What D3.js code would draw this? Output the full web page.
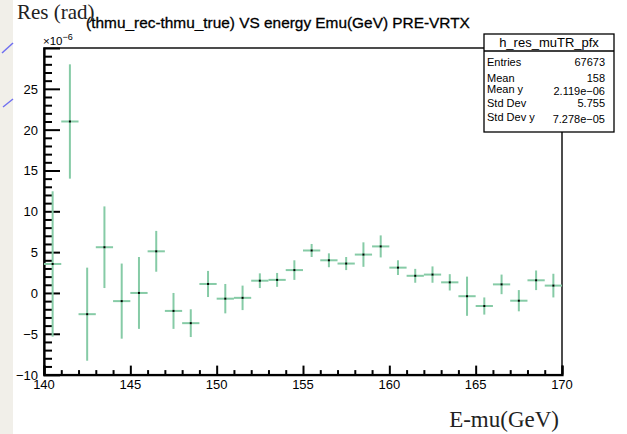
<!DOCTYPE html>
<html>
<head>
<meta charset="utf-8">
<script src="https://cdn.jsdelivr.net/npm/d3@7"></script>
<style>
  html, body { margin: 0; padding: 0; background: #fff; }
  svg { display: block; }
</style>
</head>
<body>
<svg id="chart" width="627" height="434"></svg>
<script>
// Profile of theta_mu residual vs muon energy (values in units of 1e-6 rad)
const energy = [140.5, 141.5, 142.5, 143.5, 144.5, 145.5, 146.5, 147.5, 148.5, 149.5,
                150.5, 151.5, 152.5, 153.5, 154.5, 155.5, 156.5, 157.5, 158.5, 159.5,
                160.5, 161.5, 162.5, 163.5, 164.5, 165.5, 166.5, 167.5, 168.5, 169.5];
const binWidth = 1;
const meanRes = [3.55, 21.0, -2.6, 5.6, -1.0, 0.0, 5.1, -2.2, -3.7, 1.1,
                 -0.7, -0.6, 1.5, 1.6, 2.8, 5.2, 4.0, 3.6, 4.7, 5.7,
                 3.1, 2.1, 2.25, 1.3, -0.4, -1.6, 1.05, -0.95, 1.55, 0.9];
const errRes = [8.9, 7.0, 5.7, 5.0, 4.6, 4.4, 2.5, 2.2, 1.7, 1.6,
                1.8, 1.5, 0.9, 0.85, 1.2, 0.8, 0.85, 0.8, 1.5, 1.35,
                0.9, 0.85, 1.0, 1.0, 2.4, 1.05, 1.2, 1.3, 1.2, 1.45];
const xTicks = [140, 145, 150, 155, 160, 165, 170];
const yTicks = [-10, -5, 0, 5, 10, 15, 20, 25];
const statLabels = ["Entries", "Mean", "Mean y", "Std Dev", "Std Dev y"];
const statValues = ["67673", "158", "2.119e\u221206", "5.755", "7.278e\u221205"];

const svg = d3.select("#chart");
const sans = "'Liberation Sans', Arial, Helvetica, sans-serif";
const serif = "'Liberation Serif', 'Times New Roman', serif";

const x = d3.scaleLinear().domain([140, 170]).range([44, 562]);
const y = d3.scaleLinear().domain([-10, 30]).range([374.6, 48]);

// left margin strip with decorative strokes
svg.append("rect").attr("x", 0).attr("y", 0).attr("width", 13).attr("height", 434)
  .attr("fill", "#f1efe9");
svg.append("line").attr("x1", 2).attr("y1", 53).attr("x2", 13).attr("y2", 43)
  .attr("stroke", "#6f6ff0").attr("stroke-width", 1.5);
svg.append("line").attr("x1", 3).attr("y1", 107).attr("x2", 13).attr("y2", 99)
  .attr("stroke", "#6f6ff0").attr("stroke-width", 1.5);

// frame
svg.append("rect").attr("x", x(140)).attr("y", y(30))
  .attr("width", x(170) - x(140)).attr("height", y(-10) - y(30))
  .attr("fill", "none").attr("stroke", "#000").attr("stroke-width", 1.4);

// y axis: major ticks with labels, minor ticks each unit
const yAxis = d3.axisRight(y).tickValues(yTicks).tickSize(16).tickFormat("");
const gy = svg.append("g").attr("transform", `translate(${x(140)},0)`).call(yAxis);
gy.select(".domain").attr("stroke-width", 2.2);
gy.selectAll(".tick line").attr("stroke-width", 2);
const yMinor = d3.axisRight(y).tickValues(d3.range(-10, 30, 1).filter(v => v % 5 !== 0))
  .tickSize(8).tickFormat("");
const gym = svg.append("g").attr("transform", `translate(${x(140)},0)`).call(yMinor);
gym.select(".domain").remove();
gym.selectAll(".tick line").attr("stroke-width", 2);
svg.append("g").selectAll("text").data(yTicks).join("text")
  .attr("x", 38).attr("y", d => y(d) + 5)
  .attr("text-anchor", "end").attr("font-family", sans).attr("font-size", 13)
  .text(d => d < 0 ? "\u2212" + Math.abs(d) : d);

// x axis
const xAxis = d3.axisTop(x).tickValues(xTicks).tickSize(9).tickFormat("");
const gx = svg.append("g").attr("transform", `translate(0,${y(-10)})`).call(xAxis);
gx.select(".domain").attr("stroke-width", 2.2);
gx.selectAll(".tick line").attr("stroke-width", 2);
const xMinor = d3.axisTop(x).tickValues(d3.range(141, 170, 1).filter(v => v % 5 !== 0))
  .tickSize(4.5).tickFormat("");
const gxm = svg.append("g").attr("transform", `translate(0,${y(-10)})`).call(xMinor);
gxm.select(".domain").remove();
gxm.selectAll(".tick line").attr("stroke-width", 2);
svg.append("g").selectAll("text").data(xTicks).join("text")
  .attr("x", d => x(d)).attr("y", 389)
  .attr("text-anchor", "middle").attr("font-family", sans).attr("font-size", 13)
  .text(d => d);

// exponent marker
const expo = svg.append("text").attr("x", 43).attr("y", 45)
  .attr("font-family", sans).attr("font-size", 11.5);
expo.append("tspan").text("\u00d710");
expo.append("tspan").attr("dy", -5).attr("font-size", 9).text("\u22126");

// profile points with error bars
const marks = svg.append("g");
const barColor = "#86cba6";
marks.selectAll("line.h").data(energy).join("line").attr("class", "h")
  .attr("x1", d => x(d - binWidth / 2)).attr("x2", d => x(d + binWidth / 2))
  .attr("y1", (d, i) => y(meanRes[i])).attr("y2", (d, i) => y(meanRes[i]))
  .attr("stroke", barColor).attr("stroke-width", 2);
marks.selectAll("line.v").data(energy).join("line").attr("class", "v")
  .attr("x1", d => x(d)).attr("x2", d => x(d))
  .attr("y1", (d, i) => y(meanRes[i] + errRes[i])).attr("y2", (d, i) => y(meanRes[i] - errRes[i]))
  .attr("stroke", barColor).attr("stroke-width", 2);
marks.selectAll("rect").data(energy).join("rect")
  .attr("x", d => x(d) - 1).attr("y", (d, i) => y(meanRes[i]) - 1)
  .attr("width", 2).attr("height", 2).attr("fill", "#000");

// title
svg.append("text").attr("x", 278).attr("y", 28).attr("text-anchor", "middle")
  .attr("font-family", sans).attr("font-size", 15.4)
  .attr("stroke", "#000").attr("stroke-width", 0.3)
  .text("(thmu_rec-thmu_true) VS energy Emu(GeV) PRE-VRTX");

// statistics box
const box = svg.append("g");
box.append("rect").attr("x", 484).attr("y", 34).attr("width", 130).attr("height", 98)
  .attr("fill", "#fff").attr("stroke", "#000").attr("stroke-width", 1.3);
box.append("line").attr("x1", 484).attr("x2", 614).attr("y1", 51).attr("y2", 51)
  .attr("stroke", "#000").attr("stroke-width", 1.3);
box.append("text").attr("x", 549).attr("y", 47).attr("text-anchor", "middle")
  .attr("font-family", sans).attr("font-size", 13).text("h_res_muTR_pfx");
const rowY = [66, 82, 93, 107, 121];
box.selectAll("text.lab").data(statLabels).join("text").attr("class", "lab")
  .attr("x", 487).attr("y", (d, i) => rowY[i])
  .attr("font-family", sans).attr("font-size", 11).text(d => d);
box.selectAll("text.val").data(statValues).join("text").attr("class", "val")
  .attr("x", 605).attr("y", (d, i) => rowY[i] + (i === 2 || i === 4 ? 2 : 0))
  .attr("text-anchor", "end")
  .attr("font-family", sans).attr("font-size", 11).text(d => d);

// axis titles
svg.append("text").attr("x", 17).attr("y", 19)
  .attr("font-family", serif).attr("font-size", 21).attr("fill", "#222")
  .text("Res (rad)");
svg.append("text").attr("x", 559).attr("y", 427).attr("text-anchor", "end")
  .attr("font-family", serif).attr("font-size", 23).attr("fill", "#222")
  .text("E-mu(GeV)");
</script>
</body>
</html>
